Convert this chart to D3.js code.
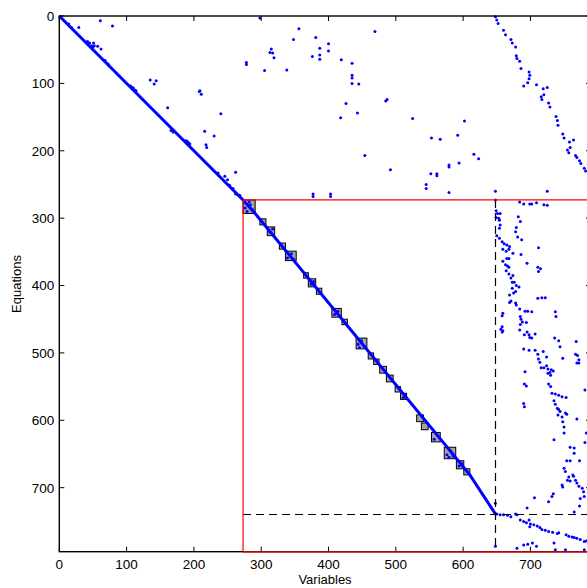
<!DOCTYPE html>
<html>
<head>
<meta charset="utf-8">
<script src="https://cdn.jsdelivr.net/npm/d3@7"></script>
<style>
  body { margin: 0; background: #fff; }
  svg { display: block; font-family: "Liberation Sans", Arial, sans-serif; }
</style>
</head>
<body>
<svg id="chart"></svg>
<script>
// ---- data (matrix column / row indices) ----
const xTicks = [0, 100, 200, 300, 400, 500, 600, 700];
const yTicks = [0, 100, 200, 300, 400, 500, 600, 700];

// main diagonal path
const diagCols = [0, 273, 291, 610, 648];
const diagRows = [0, 273, 293, 681, 739];

// partition lines
const splitAt = 273;
const dashCol = 648;
const dashRow = 739;

// diagonal blocks [col0, col1, row0, row1]
const blocks = [
  [273, 291, 273, 293], [298, 307, 301, 310], [309, 320, 313, 326],
  [327, 336, 337, 346], [336, 352, 349, 363], [363, 370, 381, 389],
  [370, 381, 390, 402], [382, 390, 404, 413], [405, 419, 434, 447],
  [420, 428, 450, 458], [441, 457, 478, 494], [459, 467, 500, 509],
  [467, 475, 509, 517], [476, 486, 520, 530], [486, 496, 533, 543],
  [499, 507, 550, 558], [507, 516, 560, 569], [531, 541, 592, 602],
  [538, 548, 604, 614], [553, 566, 618, 632], [572, 589, 640, 657],
  [590, 601, 660, 672], [601, 610, 672, 681]
];

// nonzeros inside the blocks
const blockPts = [
  [276, 285], [279, 290], [284, 280], [287, 287], [282, 276], [313, 321], [317, 316],
  [339, 359], [345, 353], [348, 361], [374, 398], [378, 394], [409, 443], [414, 438],
  [416, 445], [444, 487], [449, 482], [453, 490], [446, 492], [557, 628], [562, 622],
  [576, 651], [581, 645], [585, 653], [579, 655], [594, 668], [598, 664], [511, 566]
];

// blobs sitting next to the diagonal
const nearDiag = [
  [14, 12], [18, 17], [29, 17], [42, 38], [45, 40], [48, 44], [50, 46], [52, 44],
  [68, 66], [71, 70], [73, 72], [106, 104], [108, 106], [110, 107], [112, 110],
  [114, 111], [166, 170], [169, 172], [188, 185], [190, 186], [192, 188],
  [194, 190], [246, 238], [250, 243], [253, 251], [236, 233], [258, 256],
  [262, 264], [268, 266]
];

// scattered entries above the split row
const upperPts = [
  [61, 7], [79, 15], [51, 40], [57, 45], [62, 49], [135, 95], [144, 96], [141, 101],
  [161, 136], [208, 112], [209, 111], [211, 116], [240, 145], [216, 171], [230, 178],
  [218, 191], [219, 195], [262, 232], [298, 3], [356, 19], [381, 32], [348, 35],
  [315, 49], [313, 54], [317, 55], [319, 62], [278, 69], [278, 72], [305, 81],
  [338, 80], [376, 60], [387, 48], [387, 58], [387, 64], [400, 41], [400, 52],
  [419, 65], [435, 70], [435, 88], [435, 92], [435, 100], [445, 101], [469, 23],
  [485, 126], [426, 130], [443, 144], [418, 151], [454, 207], [492, 228], [487, 124],
  [525, 152], [553, 181], [566, 183], [602, 156], [592, 177], [616, 205], [623, 212],
  [579, 221], [579, 224], [594, 218], [552, 234], [561, 234], [561, 237], [545, 250],
  [545, 256], [579, 262], [377, 264], [377, 268], [403, 264], [403, 268],
  [648, 260], [725, 260]
];

// band of entries in the upper right corner
const cornerPts = [
  [648, 1], [650, 6], [652, 11], [660, 21], [663, 28], [671, 35], [673, 40], [678, 46],
  [679, 59], [680, 63], [684, 67], [686, 78], [698, 83], [699, 88], [698, 93], [696, 99],
  [690, 104], [709, 102], [719, 108], [725, 106], [716, 120], [717, 124], [720, 117],
  [727, 129], [729, 135], [738, 149], [740, 155], [741, 162], [748, 175], [750, 181],
  [758, 187], [764, 184], [755, 199], [757, 203], [759, 195], [767, 207], [769, 210],
  [773, 215], [775, 219], [780, 226], [782, 230]
];

// entries right of the dashed column, below the split row
const rightPts = [
  [648, 273], [684, 276], [690, 279], [699, 279], [702, 279], [709, 277], [720, 280], [725, 281],
  [649, 289], [651, 293], [655, 293], [653, 300], [654, 303], [649, 299], [682, 298], [685, 305],
  [655, 310], [654, 315], [679, 314], [678, 320], [681, 328], [687, 332], [650, 326], [654, 330],
  [658, 335], [661, 338], [665, 340], [669, 342], [659, 346], [664, 349], [668, 346], [674, 352],
  [686, 354], [712, 344], [665, 360], [668, 360], [659, 364], [663, 369], [666, 371], [668, 373],
  [695, 367], [711, 373], [715, 375], [712, 379], [664, 378], [668, 383], [674, 385], [671, 389],
  [673, 395], [676, 395], [679, 400], [683, 402], [673, 404], [678, 409], [675, 411], [669, 414],
  [671, 423], [669, 425], [678, 426], [679, 429], [711, 419], [717, 418], [722, 418], [684, 435],
  [692, 438], [696, 438], [702, 439], [737, 439], [738, 446], [659, 441], [658, 445], [685, 446],
  [686, 450], [688, 454], [694, 455], [685, 458], [658, 461], [656, 465], [659, 467], [658, 469],
  [684, 466], [695, 469], [698, 473], [699, 477], [702, 478], [691, 473], [707, 472], [736, 478],
  [742, 482], [744, 491], [768, 483], [690, 494], [698, 496], [707, 496], [719, 498], [711, 502],
  [724, 506], [767, 502], [770, 504], [748, 508], [712, 509], [772, 510], [769, 515], [772, 515],
  [714, 514], [716, 522], [720, 522], [724, 519], [726, 524], [731, 525], [734, 527], [729, 529],
  [692, 528], [726, 530], [730, 533], [691, 546], [694, 549], [727, 546], [730, 550], [732, 560],
  [737, 561], [742, 563], [747, 565], [753, 566], [735, 571], [737, 576], [740, 582], [742, 584],
  [744, 587], [741, 592], [747, 595], [752, 589], [754, 591], [748, 602], [750, 610], [750, 619],
  [769, 598], [781, 555], [783, 619], [781, 633], [735, 629], [690, 575], [691, 580], [759, 640],
  [765, 641], [765, 649], [759, 660], [754, 660], [773, 660], [750, 671], [752, 676], [757, 684],
  [755, 689], [759, 690], [764, 683], [767, 689], [763, 681], [769, 693], [772, 698], [747, 696],
  [748, 699], [777, 701], [779, 706], [780, 713], [774, 716], [734, 709], [732, 713], [727, 721],
  [706, 715], [695, 730], [773, 727], [765, 736], [648, 723]
];

// tail of the diagonal beyond the dashed corner, and the last rows
const tailPts = [
  [650, 739], [655, 740], [660, 740], [666, 741], [671, 743], [678, 739], [680, 740], [685, 748],
  [690, 750], [694, 752], [698, 748], [700, 754], [699, 758], [705, 755], [710, 757], [714, 759],
  [717, 762], [722, 763], [727, 765], [733, 766], [740, 768], [742, 767], [753, 770], [757, 772],
  [762, 773], [765, 774], [769, 775], [774, 777], [780, 780], [783, 779],
  [648, 787], [680, 790], [690, 785], [696, 784], [703, 782], [709, 787], [735, 782],
  [737, 792], [752, 792], [780, 792]
];

// ---- layout ----
const width = 587, height = 588;
const xMax = 790, yMax = 795;

const svg = d3.select("#chart").attr("width", width).attr("height", height);

const x = d3.scaleLinear().domain([0, xMax]).range([59.3, 591]);
const y = d3.scaleLinear().domain([0, yMax]).range([16, 551.7]);

const plot = svg.append("g");

// grey diagonal blocks
plot.selectAll(".block")
  .data(blocks)
  .enter()
  .append("rect")
  .attr("class", "block")
  .attr("x", d => x(d[0]))
  .attr("y", d => y(d[2]))
  .attr("width", d => x(d[1]) - x(d[0]))
  .attr("height", d => y(d[3]) - y(d[2]))
  .attr("fill", "#a4a4a4")
  .attr("stroke", "#000")
  .attr("stroke-width", 1);

// the dense diagonal
const diag = d3.line().x(d => x(d[0])).y(d => y(d[1]));
plot.append("path")
  .datum(diagCols.map((c, i) => [c, diagRows[i]]))
  .attr("d", diag)
  .attr("fill", "none")
  .attr("stroke", "#0000ff")
  .attr("stroke-width", 3);

// scattered nonzeros
const allPts = [].concat(blockPts, nearDiag, upperPts, cornerPts, rightPts, tailPts);
plot.selectAll(".nz")
  .data(allPts)
  .enter()
  .append("circle")
  .attr("class", "nz")
  .attr("cx", d => x(d[0]))
  .attr("cy", d => y(d[1]))
  .attr("r", 1.5)
  .attr("fill", "#0000ff");

// dashed partition lines (snapped to whole pixels so they stay black)
const snap = v => Math.round(v) + 0.5;
plot.append("line")
  .attr("x1", snap(x(dashCol))).attr("x2", snap(x(dashCol)))
  .attr("y1", y(splitAt)).attr("y2", y(yMax))
  .attr("stroke", "#000").attr("stroke-width", 1.2)
  .attr("stroke-dasharray", "8,5");
plot.append("line")
  .attr("x1", x(splitAt)).attr("x2", x(xMax))
  .attr("y1", snap(y(dashRow))).attr("y2", snap(y(dashRow)))
  .attr("stroke", "#000").attr("stroke-width", 1.2)
  .attr("stroke-dasharray", "8,5");

// ---- axes (matlab style box, ticks inward) ----
const axes = svg.append("g");

axes.append("rect")
  .attr("x", x(0)).attr("y", y(0))
  .attr("width", x(xMax) - x(0)).attr("height", y(yMax) - y(0))
  .attr("fill", "none").attr("stroke", "#000").attr("stroke-width", 1.4);

const tickLen = 5;
xTicks.forEach(t => {
  axes.append("line")
    .attr("x1", x(t)).attr("x2", x(t))
    .attr("y1", y(yMax)).attr("y2", y(yMax) - tickLen)
    .attr("stroke", "#000");
  axes.append("line")
    .attr("x1", x(t)).attr("x2", x(t))
    .attr("y1", y(0)).attr("y2", y(0) + tickLen)
    .attr("stroke", "#000");
  axes.append("text")
    .attr("x", x(t)).attr("y", 569)
    .attr("text-anchor", "middle")
    .attr("font-size", "13.5px")
    .text(t);
});
yTicks.forEach(t => {
  axes.append("line")
    .attr("x1", x(0)).attr("x2", x(0) + tickLen)
    .attr("y1", y(t)).attr("y2", y(t))
    .attr("stroke", "#000");
  axes.append("line")
    .attr("x1", x(xMax)).attr("x2", x(xMax) - tickLen)
    .attr("y1", y(t)).attr("y2", y(t))
    .attr("stroke", "#000");
  axes.append("text")
    .attr("x", x(0) - 5).attr("y", y(t))
    .attr("dy", "0.36em")
    .attr("text-anchor", "end")
    .attr("font-size", "13.5px")
    .text(t);
});

// red partition box
const red = svg.append("g").attr("stroke", "#ff0000").attr("fill", "none");
red.append("line")
  .attr("x1", x(splitAt)).attr("x2", x(xMax))
  .attr("y1", y(splitAt)).attr("y2", y(splitAt)).attr("stroke-width", 1.2);
red.append("line")
  .attr("x1", x(splitAt)).attr("x2", x(splitAt))
  .attr("y1", y(splitAt)).attr("y2", y(yMax)).attr("stroke-width", 1.2);
red.append("line")
  .attr("x1", x(splitAt)).attr("x2", x(xMax))
  .attr("y1", y(yMax)).attr("y2", y(yMax))
  .attr("stroke", "#c00000").attr("stroke-width", 1.6);

// axis titles
svg.append("text")
  .attr("x", 325).attr("y", 584)
  .attr("text-anchor", "middle")
  .attr("font-size", "13px")
  .text("Variables");
svg.append("text")
  .attr("transform", "translate(21,284) rotate(-90)")
  .attr("text-anchor", "middle")
  .attr("font-size", "13px")
  .text("Equations");
</script>
</body>
</html>
